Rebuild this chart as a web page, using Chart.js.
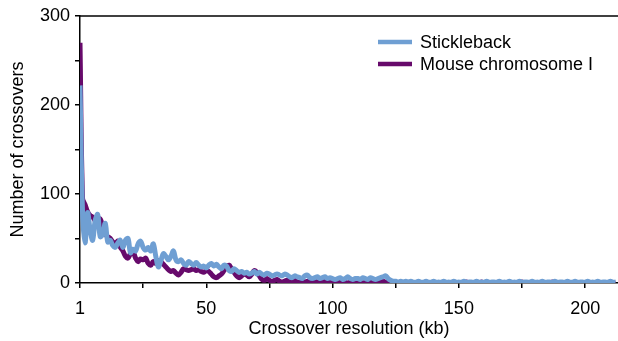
<!DOCTYPE html>
<html>
<head>
<meta charset="utf-8">
<script src="https://cdn.jsdelivr.net/npm/chart.js@4.4.0/dist/chart.umd.min.js"></script>
<style>
  html, body { margin: 0; padding: 0; background: #fff; }
  #wrap { width: 618px; height: 341px; }
</style>
</head>
<body>
<div id="wrap"><canvas id="myChart" width="618" height="341"></canvas></div>
<script>
// bin index along x (0 is shown as "1" kb)
var bins = [];
for (var i = 0; i <= 212; i++) bins.push(i);

var xTickValues = [0, 25, 50, 75, 100, 125, 150, 175, 200];
var xTickLabels = ["1", "", "50", "", "100", "", "150", "", "200"];
var yTickValues = [0, 50, 100, 150, 200, 250, 300];
var yTickLabels = ["0", "", "100", "", "200", "", "300"];

var stickleback = [
  222, 80, 45, 79, 60, 48, 70, 77, 52, 55,
  67, 46, 48, 42, 40, 45, 48, 40, 48, 50,
  34, 38, 36, 44, 47, 40, 37, 40, 36, 44,
  30, 18, 25, 33, 30, 26, 30, 36, 26, 24,
  26, 22, 20, 24, 22, 20, 23, 20, 18, 19,
  17, 20, 22, 19, 21, 18, 16, 20, 19, 14,
  13, 16, 14, 12, 13, 11, 12, 10, 11, 13,
  10, 12, 10, 9, 11, 10, 8, 9, 10, 9,
  8, 10, 9, 7, 6, 8, 7, 6, 5, 8,
  9, 6, 5, 6, 7, 5, 6, 7, 5, 6,
  5, 4, 5, 6, 4, 5, 7, 5, 4, 5,
  5, 4, 6, 5, 4, 6, 5, 4, 5, 6,
  7, 8, 5, 3, 2, 2, 1, 2, 1, 2,
  1, 2, 1, 1, 2, 1, 1, 2, 1, 1,
  2, 1, 1, 1, 2, 1, 1, 1, 2, 1,
  1, 1, 2, 1, 1, 1, 1, 2, 1, 1,
  1, 2, 1, 1, 1, 1, 2, 1, 1, 1,
  2, 1, 1, 1, 2, 1, 1, 1, 1, 2,
  1, 1, 1, 2, 1, 1, 1, 1, 2, 1,
  1, 1, 1, 2, 1, 1, 2, 1, 1, 1,
  1, 2, 1, 1, 1, 2, 1, 1, 1, 1,
  2, 1, 1
];

var mouseChr1 = [
  270, 95, 88, 80, 76, 74, 70, 64, 72, 62,
  55, 52, 50, 46, 44, 47, 40, 36, 30, 28,
  33, 35, 28, 24, 27, 26, 28, 22, 20, 24,
  22, 25, 24, 21, 18, 15, 13, 14, 11, 9,
  12, 16, 15, 14, 15, 16, 14, 15, 13, 12,
  14, 13, 10, 7, 6, 8, 10, 14, 18, 20,
  16, 12, 8, 6, 8, 10, 9, 7, 10, 14,
  12, 8, 4, 3, 5, 3, 2, 3, 4, 2,
  1, 2, 3, 1, 2, 3, 1, 1, 2, 1,
  2, 1, 1, 2, 1, 0, 1, 2, 1, 1,
  1, 0, 1, 1, 2, 1, 0, 1, 1, 2,
  1, 1, 0, 1, 2, 1, 1, 0, 1, 1,
  2, 1, 1, 0, 1, 1, 0, 1, 0, 1,
  0, 1, 0, 0, 1, 0, 0, 1, 0, 0,
  1, 0, 0, 0, 1, 0, 0, 0, 1, 0,
  0, 0, 0, 1, 0, 0, 0, 0, 0, 1,
  0, 0, 0, 0, 0, 0, 1, 0, 0, 0,
  0, 0, 0, 0, 0, 1, 0, 0, 0, 0,
  0, 0, 0, 0, 0, 0, 0, 1, 0, 0,
  0, 0, 0, 0, 0, 0, 0, 0, 0, 0,
  0, 0, 0, 0, 0, 0, 0, 0, 0, 0,
  0, 0, 0
];

var seriesNames = ["Stickleback", "Mouse chromosome I"];
var seriesColors = ["#6f9fd3", "#670a6b"];

function toPoints(arr) {
  return arr.map(function (v, i) { return { x: bins[i], y: v }; });
}

var FONT = "'Liberation Sans', Arial, Helvetica, sans-serif";

// top frame line and in-plot legend
var extras = {
  id: "extras",
  afterDraw: function (chart) {
    var ctx = chart.ctx;
    var a = chart.chartArea;
    ctx.save();
    ctx.strokeStyle = "#000";
    ctx.lineWidth = 1.5;
    ctx.beginPath();
    ctx.moveTo(a.left, a.top);
    ctx.lineTo(chart.width, a.top);
    ctx.stroke();

    ctx.font = "18px " + FONT;
    ctx.textBaseline = "middle";
    ctx.fillStyle = "#000";
    for (var k = 0; k < seriesNames.length; k++) {
      var y = 42 + k * 22;
      ctx.strokeStyle = seriesColors[k];
      ctx.lineWidth = 4.5;
      ctx.beginPath();
      ctx.moveTo(378, y);
      ctx.lineTo(412, y);
      ctx.stroke();
      ctx.fillText(seriesNames[k], 420, y + 1);
    }
    ctx.restore();
  }
};

var ctx = document.getElementById("myChart").getContext("2d");
var myChart = new Chart(ctx, {
  type: "line",
  data: {
    datasets: [
      {
        label: seriesNames[0],
        data: toPoints(stickleback),
        borderColor: seriesColors[0],
        backgroundColor: seriesColors[0],
        borderWidth: 5,
        pointRadius: 0,
        tension: 0.35,
        fill: false,
      },
      {
        label: seriesNames[1],
        data: toPoints(mouseChr1),
        borderColor: seriesColors[1],
        backgroundColor: seriesColors[1],
        borderWidth: 5,
        pointRadius: 0,
        tension: 0.35,
        fill: false,
      },
    ],
  },
  options: {
    responsive: false,
    animation: false,
    layout: { padding: { top: 16, right: 0, left: 7, bottom: 0 } },
    plugins: {
      legend: { display: false },
      tooltip: { enabled: false },
    },
    scales: {
      x: {
        type: "linear",
        min: 0,
        max: 213,
        afterBuildTicks: function (axis) {
          axis.ticks = xTickValues.map(function (v) { return { value: v }; });
        },
        afterFit: function (axis) { axis.height = 58; },
        ticks: {
          autoSkip: false,
          maxRotation: 0,
          padding: 10,
          color: "#000",
          font: { family: FONT, size: 18 },
          callback: function (value) {
            var idx = xTickValues.indexOf(value);
            return idx >= 0 ? xTickLabels[idx] : "";
          },
        },
        grid: {
          drawOnChartArea: false,
          drawTicks: true,
          tickLength: 5,
          color: "#000",
          lineWidth: 1.5,
        },
        border: { display: true, color: "#000", width: 1.5 },
        title: {
          display: true,
          text: "Crossover resolution (kb)",
          color: "#000",
          font: { family: FONT, size: 18 },
          padding: { top: 0, bottom: 1 },
        },
      },
      y: {
        min: 0,
        max: 300,
        afterBuildTicks: function (axis) {
          axis.ticks = yTickValues.map(function (v) { return { value: v }; });
        },
        afterFit: function (axis) { axis.width = 73; },
        ticks: {
          padding: 5,
          color: "#000",
          font: { family: FONT, size: 18 },
          callback: function (value) {
            var idx = yTickValues.indexOf(value);
            return idx >= 0 ? yTickLabels[idx] : "";
          },
        },
        grid: {
          drawOnChartArea: false,
          drawTicks: true,
          tickLength: 5,
          color: "#000",
          lineWidth: 1.5,
        },
        border: { display: true, color: "#000", width: 1.5 },
        title: {
          display: true,
          text: "Number of crossovers",
          color: "#000",
          font: { family: FONT, size: 18 },
          padding: { top: 0, bottom: 0 },
        },
      },
    },
  },
  plugins: [extras],
});
</script>
</body>
</html>
